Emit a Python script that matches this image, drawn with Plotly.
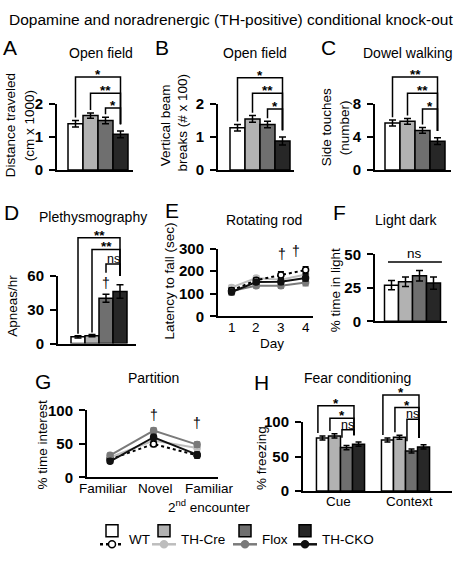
import plotly.graph_objects as go

W, H = 461, 562
FONT = "Liberation Sans, Arial, sans-serif"

# ---------------- data ----------------
groups = ["WT", "TH-Cre", "Flox", "TH-CKO"]

# A - Open field: distance traveled (cm x 1000)
distance_mean = [1.40, 1.65, 1.50, 1.08]
distance_sem = [0.10, 0.08, 0.10, 0.10]
# B - Open field: vertical beam breaks (# x 100)
beam_mean = [1.28, 1.55, 1.38, 0.88]
beam_sem = [0.10, 0.10, 0.10, 0.12]
# C - Dowel walking: side touches
touches_mean = [5.7, 5.9, 4.8, 3.5]
touches_sem = [0.35, 0.35, 0.35, 0.40]
# D - Plethysmography: apneas/hr
apnea_mean = [6, 7, 40, 46]
apnea_sem = [1, 1, 3.5, 6]
# E - Rotating rod: latency to fall (sec)
days = [1, 2, 3, 4]
day_labels = ["1", "2", "3", "4"]
rotarod_wt = [115, 160, 183, 205]
rotarod_thcre = [128, 170, 162, 185]
rotarod_flox = [112, 136, 136, 150]
rotarod_cko = [108, 152, 153, 170]
rotarod_sem_wt = [12, 10, 14, 15]
rotarod_sem_thcre = [10, 10, 12, 14]
rotarod_sem_flox = [10, 10, 12, 14]
rotarod_sem_cko = [12, 10, 12, 14]
# F - Light dark: % time in light
light_mean = [27, 29.5, 34, 28.5]
light_sem = [3.5, 3.5, 4.0, 4.5]
# G - Partition: % time interest
partition_labels = ["Familiar", "Novel", "Familiar"]
partition_wt = [27, 50, 33]
partition_thcre = [30, 55, 44]
partition_flox = [33, 70, 49]
partition_cko = [24, 60, 34]
partition_sem_wt = [3, 4, 4]
partition_sem_thcre = [3, 4, 4]
partition_sem_flox = [3, 4, 4]
partition_sem_cko = [3, 4, 4]
# H - Fear conditioning: % freezing
fear_labels = ["Cue", "Context"]
fear_wt = [77, 74]
fear_thcre = [80, 78]
fear_flox = [63, 58]
fear_cko = [68, 64]
fear_sem_wt = [3, 3]
fear_sem_thcre = [3, 3]
fear_sem_flox = [3, 3]
fear_sem_cko = [3, 3]

# ---------------- styles ----------------
bar_fill = ["#ffffff", "#b2b2b2", "#6f6f6f", "#272727"]
line_col = ["#000000", "#bdbdbd", "#7a7a7a", "#111111"]
line_dash = ["3px,3px", "solid", "solid", "solid"]
LAB = 13.5


def fx(p):
    return p / W


def fy(p):
    return 1 - p / H


fig = go.Figure()
shapes = []
annotations = []
layout_axes = {}


def aid(letter, n):
    return letter if n == 1 else f"{letter}{n}"


def font(size, bold=False):
    return dict(family=FONT, size=size, color="black", weight="bold" if bold else "normal")


def txt(text, px, py, size=13.5, angle=0, bold=False, xanchor="center", yanchor="middle"):
    annotations.append(dict(text=text, x=fx(px), y=fy(py), xref="paper", yref="paper",
                            textangle=angle, xanchor=xanchor, yanchor=yanchor, showarrow=False,
                            font=font(size, bold)))


geom = {}


def setup_axes(n, xpx, ypx, xrange, yrange, ytick):
    xa, ya = aid("x", n), aid("y", n)
    geom[n] = dict(base=ypx[0], top=ypx[1], ymax=yrange[1])
    layout_axes["xaxis" + ("" if n == 1 else str(n))] = dict(
        domain=[fx(xpx[0]), fx(xpx[1])], range=xrange, anchor=ya,
        showline=True, linecolor="black", linewidth=2, showgrid=False, zeroline=False,
        ticks="", showticklabels=False, fixedrange=True)
    layout_axes["yaxis" + ("" if n == 1 else str(n))] = dict(
        domain=[fy(ypx[0]), fy(ypx[1])], range=yrange, anchor=xa,
        showline=True, linecolor="black", linewidth=2, showgrid=False, zeroline=False,
        ticks="outside", ticklen=6, tickwidth=2, tickcolor="black", tickvals=ytick,
        ticklabelstandoff=3, tickfont=font(15, True), fixedrange=True)


def xlabels(n, xs, labels, yshift=0, xshifts=None):
    for i, (x, lab) in enumerate(zip(xs, labels)):
        annotations.append(dict(text=lab, x=x, y=0, xref=aid("x", n), yref=aid("y", n) + " domain",
                                yanchor="top", yshift=yshift,
                                xshift=0 if xshifts is None else xshifts[i],
                                showarrow=False, font=font(LAB)))


def bar_panel(n, xpx, ypx, c0, unit, yrange, ytick, means, sems):
    xr = [(xpx[0] - c0) / unit, (xpx[1] - c0) / unit]
    setup_axes(n, xpx, ypx, xr, yrange, ytick)
    fig.add_trace(go.Bar(x=list(range(len(means))), y=means, width=1,
                         marker=dict(color=bar_fill, line=dict(color="black", width=1.5)),
                         error_y=dict(type="data", array=sems, color="black", thickness=1.5, width=3.5),
                         xaxis=aid("x", n), yaxis=aid("y", n), showlegend=False))


def dom(n, value=None, px=0):
    g = geom[n]
    length = g["base"] - g["top"]
    v = 0 if value is None else value / g["ymax"]
    return v + px / length


def bracket(n, xl, xr, top_px, left_top_val, right_top_val, label, lpad=3, rpad=7, ldrop=None):
    xa, ya = aid("x", n), aid("y", n)
    ytop = dom(n, None, top_px)
    ybl = dom(n, left_top_val, lpad) if ldrop is None else ytop - dom(n, None, ldrop)
    ybr = dom(n, right_top_val, rpad)
    shapes.append(dict(type="path", xref=xa, yref=ya + " domain",
                       path=f"M {xl},{ybl} L {xl},{ytop} L {xr},{ytop} L {xr},{ybr}",
                       line=dict(color="black", width=1.5)))
    star = "*" in label
    annotations.append(dict(text=label, x=(xl + xr) / 2, y=ytop, xref=xa, yref=ya + " domain",
                            xanchor="center", yanchor="bottom", showarrow=False,
                            yshift=-6 if star else -3, borderpad=0,
                            font=font(13.5, True) if star else font(12.5)))


def tops(means, sems):
    return [m + s for m, s in zip(means, sems)]


# ---------------- A ----------------
bar_panel(1, (57, 133), (166, 98), 75.5, 15, [0, 2], [0, 1, 2], distance_mean, distance_sem)
t = tops(distance_mean, distance_sem)
bracket(1, 0, 3, 96, t[0], t[3], "*")
bracket(1, 1, 3, 79, t[1], t[3], "**")
bracket(1, 2, 3, 64, t[2], t[3], "*")

# ---------------- B ----------------
bar_panel(2, (218, 294), (166, 98), 237.5, 15, [0, 2], [0, 1, 2], beam_mean, beam_sem)
t = tops(beam_mean, beam_sem)
bracket(2, 0, 3, 95, t[0], t[3], "*")
bracket(2, 1, 3, 79, t[1], t[3], "**")
bracket(2, 2, 3, 63, t[2], t[3], "*")

# ---------------- C ----------------
bar_panel(3, (375, 451), (166, 98), 392.5, 15, [0, 8], [0, 4, 8], touches_mean, touches_sem)
t = tops(touches_mean, touches_sem)
bracket(3, 0, 3, 96, t[0], t[3], "**")
bracket(3, 1, 3, 79, t[1], t[3], "**")
bracket(3, 2, 3, 63, t[2], t[3], "*")

# ---------------- D ----------------
bar_panel(4, (58, 136), (345, 275), 78, 14, [0, 60], [0, 30, 60], apnea_mean, apnea_sem)
t = tops(apnea_mean, apnea_sem)
bracket(4, 0, 3, 109, t[0], t[3], "**", lpad=2, rpad=9)
bracket(4, 1, 3, 97, t[1], t[3], "**", lpad=2, rpad=9)
bracket(4, 2, 3, 82, t[2], t[3], "ns", rpad=9, ldrop=9)
annotations.append(dict(text="†", x=2, y=t[2], xref="x4", yref="y4", yanchor="bottom",
                        showarrow=False, yshift=1, font=font(14)))

# ---------------- E ----------------
setup_axes(5, (218, 313), (317, 247), [0.45, 4.3], [0, 300], [0, 100, 200, 300])
xlabels(5, days, day_labels, yshift=-2)
rot_series = [(rotarod_thcre, rotarod_sem_thcre, 1), (rotarod_flox, rotarod_sem_flox, 2),
              (rotarod_wt, rotarod_sem_wt, 0), (rotarod_cko, rotarod_sem_cko, 3)]
for vals, sem, k in rot_series:
    fig.add_trace(go.Scatter(
        x=days, y=vals, mode="lines+markers", xaxis="x5", yaxis="y5", showlegend=False,
        line=dict(color=line_col[k], width=2, dash=line_dash[k]),
        marker=dict(size=6, color="white" if k == 0 else line_col[k],
                    line=dict(color=line_col[k], width=1.5)),
        error_y=dict(type="data", array=sem, color=line_col[k], thickness=1.5, width=3)))
for d, sh, xs in [(3, 8, 1), (4, 6, -10)]:
    i = days.index(d)
    annotations.append(dict(text="†", x=d, y=rotarod_wt[i] + rotarod_sem_wt[i], xref="x5", yref="y5",
                            yanchor="bottom", showarrow=False, yshift=sh, xshift=xs, font=font(14)))

# ---------------- F ----------------
bar_panel(6, (375, 447), (322, 253), 391.5, 14, [0, 50], [0, 25, 50], light_mean, light_sem)
shapes.append(dict(type="line", xref="x6", yref="y6 domain", x0=-0.25, x1=3.6,
                   y0=dom(6, None, 61), y1=dom(6, None, 61), line=dict(color="black", width=1.5)))
annotations.append(dict(text="ns", x=1.65, y=dom(6, None, 61), xref="x6", yref="y6 domain",
                        yanchor="bottom", showarrow=False, yshift=-1, font=font(13.5)))

# ---------------- G ----------------
setup_axes(7, (87, 218), (483, 414), [-0.53, 2.48], [0, 100], [0, 50, 100])
gx = list(range(len(partition_labels)))
part_series = [(partition_thcre, partition_sem_thcre, 1), (partition_wt, partition_sem_wt, 0),
               (partition_flox, partition_sem_flox, 2), (partition_cko, partition_sem_cko, 3)]
for vals, sem, k in part_series:
    fig.add_trace(go.Scatter(
        x=gx, y=vals, mode="lines+markers", xaxis="x7", yaxis="y7", showlegend=False,
        line=dict(color=line_col[k], width=2, dash=line_dash[k]),
        marker=dict(size=6, color="white" if k == 0 else line_col[k],
                    line=dict(color=line_col[k], width=1.5)),
        error_y=dict(type="data", array=sem, color=line_col[k], thickness=1.5, width=3)))
xlabels(7, gx, partition_labels, yshift=-2, xshifts=[-7, 2, 12])
annotations.append(dict(text="2<sup>nd</sup> encounter", x=2, y=0, xref="x7", yref="y7 domain",
                        yanchor="top", xshift=12, yshift=-18, showarrow=False, font=font(LAB)))
for i, sh in [(1, 3), (2, 9)]:
    annotations.append(dict(text="†", x=i, y=partition_flox[i] + partition_sem_flox[i], xref="x7",
                            yref="y7", yanchor="bottom", showarrow=False, yshift=sh, font=font(14)))

# ---------------- H ----------------
hx = list(range(len(fear_labels)))
setup_axes(8, (303, 452), (497, 426), [(303 - 340.5) / 65, 1 + (452 - 405.5) / 65], [0, 100],
           [0, 50, 100])
xlabels(8, hx, fear_labels, yshift=-1, xshifts=[-2, 4])
bw = 0.185
fear_series = [(fear_wt, fear_sem_wt), (fear_thcre, fear_sem_thcre),
               (fear_flox, fear_sem_flox), (fear_cko, fear_sem_cko)]
for k, (vals, sem) in enumerate(fear_series):
    fig.add_trace(go.Bar(x=hx, y=vals, width=bw, offset=-2 * bw + k * bw, xaxis="x8", yaxis="y8",
                         marker=dict(color=bar_fill[k], line=dict(color="black", width=1.5)),
                         error_y=dict(type="data", array=sem, color="black", thickness=1.5, width=3),
                         showlegend=False))


def hpos(g, k):
    return g + (-1.5 + k) * bw - 0.07


for g, tps in zip(hx, [(88, 75, 63), (99, 86, 74)]):
    vt = [fear_series[k][0][g] + fear_series[k][1][g] for k in range(4)]
    bracket(8, hpos(g, 0), hpos(g, 3), tps[0], vt[0], vt[3], "*")
    bracket(8, hpos(g, 1), hpos(g, 3), tps[1], vt[1], vt[3], "*")
    bracket(8, hpos(g, 2), hpos(g, 3), tps[2], vt[2], vt[3], "ns", lpad=8)

# ---------------- texts ----------------
txt("Dopamine and noradrenergic (TH-positive) conditional knock-out", 231, 11, size=15.5)
for letter, (px, py) in {"A": (10, 40), "B": (162, 40), "C": (328, 40), "D": (11, 210),
                         "E": (172, 208), "F": (339, 210), "G": (43, 384), "H": (261, 385)}.items():
    txt(letter, px, py, size=21)
for title, (px, py) in [("Open field", (101, 45)), ("Open field", (255, 45)),
                        ("Dowel walking", (407, 45)), ("Plethysmography", (93, 215)),
                        ("Rotating rod", (264, 218)), ("Light dark", (406, 218)),
                        ("Partition", (153, 380)), ("Fear conditioning", (357, 381))]:
    txt(title, px, py, size=14)
# y-axis titles
for text, px, py in [("Distance traveled", 10, 120), ("(cm x 1000)", 29, 121),
                     ("Vertical beam", 165, 120), ("breaks (# x 100)", 182, 117),
                     ("Side touches", 326, 122), ("(number)", 344, 123),
                     ("Apneas/hr", 13, 306), ("Latency to fall (sec)", 169, 281),
                     ("% time in light", 335, 290), ("% time interest", 42, 449),
                     ("% freezing", 262, 463)]:
    txt(text, px, py, size=13.5, angle=-90)
txt("Day", 272, 345, size=LAB)

# ---------------- legend ----------------
leg_cx = [112, 164, 245, 305]
for k, cx in enumerate(leg_cx):
    shapes.append(dict(type="rect", xref="paper", yref="paper", xsizemode="pixel", ysizemode="pixel",
                       xanchor=fx(cx), yanchor=fy(538), x0=-6, x1=6, y0=-6, y1=6,
                       fillcolor=bar_fill[k], line=dict(color="black", width=1.5)))
    shapes.append(dict(type="line", xref="paper", yref="paper", x0=fx(cx - 12), x1=fx(cx + 12),
                       y0=fy(552), y1=fy(552),
                       line=dict(color=line_col[k], width=2.5,
                                 dash="dot" if k == 0 else "solid")))
    shapes.append(dict(type="circle", xref="paper", yref="paper", xsizemode="pixel", ysizemode="pixel",
                       xanchor=fx(cx), yanchor=fy(552), x0=-3.5, x1=3.5, y0=-3.5, y1=3.5,
                       fillcolor="white" if k == 0 else line_col[k],
                       line=dict(color=line_col[k], width=1.5)))
    txt(groups[k], cx + 15, 547, size=13.5, xanchor="left")

fig.update_layout(width=W, height=H, margin=dict(l=0, r=0, t=0, b=0),
                  paper_bgcolor="white", plot_bgcolor="rgba(0,0,0,0)",
                  barmode="overlay", showlegend=False,
                  shapes=shapes, annotations=annotations, **layout_axes)
# remove the browser's default 8px body margin so the figure fills the window exactly
fig.write_html("out.html", config={"displayModeBar": False},
               post_script="document.body.style.margin='0';")
